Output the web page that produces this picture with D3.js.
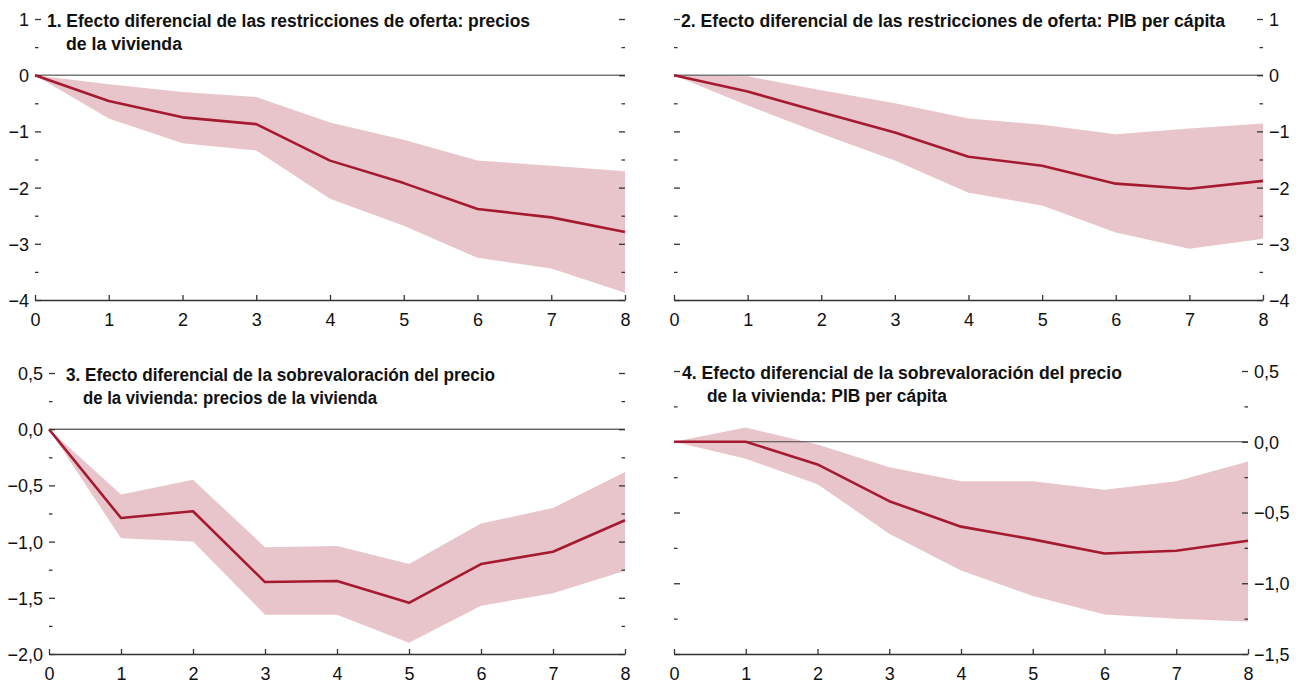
<!DOCTYPE html>
<html>
<head>
<meta charset="utf-8">
<script src="https://cdn.jsdelivr.net/npm/d3@7"></script>
<style>
  body { margin: 0; background: #fff; }
  svg { display: block; font-family: "Liberation Sans", Arial, sans-serif; }
  .tick text { font-size: 18px; fill: #111; }
  .title { font-size: 18px; font-weight: bold; fill: #111; }
</style>
</head>
<body>
<div data-js-graph></div>
<script>
// horizons (x axis)
const steps = [0, 1, 2, 3, 4, 5, 6, 7, 8];

// 1. supply restrictions: house prices
const p1Mid = [0, -0.46, -0.75, -0.87, -1.52, -1.92, -2.38, -2.53, -2.79];
const p1Low = [0, -0.77, -1.21, -1.34, -2.2, -2.68, -3.25, -3.44, -3.87];
const p1High = [0, -0.16, -0.30, -0.39, -0.84, -1.15, -1.52, -1.61, -1.71];

// 2. supply restrictions: GDP per capita
const p2Mid = [0, -0.29, -0.66, -1.02, -1.45, -1.61, -1.93, -2.02, -1.88];
const p2Low = [0, -0.54, -1.04, -1.52, -2.09, -2.32, -2.8, -3.09, -2.91];
const p2High = [0, -0.02, -0.27, -0.5, -0.77, -0.88, -1.05, -0.95, -0.86];

// 3. overvaluation: house prices
const p3Mid = [0, -0.79, -0.73, -1.36, -1.35, -1.545, -1.2, -1.09, -0.81];
const p3Low = [0, -0.97, -1.0, -1.65, -1.65, -1.9, -1.57, -1.46, -1.26];
const p3High = [0, -0.58, -0.45, -1.05, -1.04, -1.2, -0.84, -0.70, -0.38];

// 4. overvaluation: GDP per capita
const p4Mid = [0, 0, -0.16, -0.42, -0.6, -0.69, -0.79, -0.77, -0.70];
const p4Low = [0, -0.12, -0.30, -0.65, -0.91, -1.09, -1.22, -1.25, -1.27];
const p4High = [0, 0.10, -0.02, -0.18, -0.28, -0.28, -0.34, -0.28, -0.14];

// y ticks
const ticksTop = [-4, -3, -2, -1, 0, 1];
const minorTop = [-3.5, -2.5, -1.5, -0.5, 0.5];
const ticksBottom = [-2, -1.5, -1, -0.5, 0, 0.5];
const minorBottom = [-1.75, -1.25, -0.75, -0.25, 0.25];
const ticksBottomR = [-1.5, -1, -0.5, 0, 0.5];
const minorBottomR = [-1.25, -0.75, -0.25, 0.25];

const titles = {
  p1: ['1. Efecto diferencial de las restricciones de oferta: precios', 'de la vivienda'],
  p2: ['2. Efecto diferencial de las restricciones de oferta: PIB per cápita'],
  p3: ['3. Efecto diferencial de la sobrevaloración del precio', 'de la vivienda: precios de la vivienda'],
  p4: ['4. Efecto diferencial de la sobrevaloración del precio', 'de la vivienda: PIB per cápita'],
};

const COLORS = {
  line: '#a51a31',
  band: '#e8c5ca',
  axis: '#333',
  zero: '#777',
};

const W = 1305;
const H = 683;

const svg = d3.select('[data-js-graph]').append('svg')
  .attr('width', W)
  .attr('height', H);

const fmtInt = (d) => (d < 0 ? `\u2212${Math.abs(d)}` : `${d}`);
const fmtDec = (d) => {
  const s = Math.abs(d).toFixed(1).replace('.', ',');
  return d < 0 ? `\u2212${s}` : s;
};

/**
 * Draws one panel.
 */
function drawPanel(cfg) {
  const g = svg.append('g');
  const x = d3.scaleLinear().domain([0, 8]).range([cfg.x0, cfg.x1]);
  const y = d3.scaleLinear().domain(cfg.yDomain).range([cfg.yBottom, cfg.yTop]);

  const rows = steps.map((s, i) => ({
    s, mid: cfg.mid[i], low: cfg.low[i], high: cfg.high[i],
  }));

  // confidence band
  g.append('path')
    .datum(rows)
    .attr('fill', COLORS.band)
    .attr('d', d3.area()
      .x((d) => x(d.s))
      .y0((d) => y(d.low))
      .y1((d) => y(d.high)));

  // zero line
  g.append('line')
    .attr('x1', cfg.x0)
    .attr('x2', cfg.x1)
    .attr('y1', y(0))
    .attr('y2', y(0))
    .attr('stroke', cfg.zeroColor)
    .attr('stroke-width', cfg.zeroWidth);

  // y ticks on both sides; labels on one side
  const sides = [
    { at: cfg.x0, labelled: cfg.labelSide === 'left', axis: d3.axisLeft, dir: -1 },
    { at: cfg.x1, labelled: cfg.labelSide === 'right', axis: d3.axisRight, dir: 1 },
  ];
  sides.forEach((side) => {
    const major = g.append('g')
      .attr('transform', `translate(${side.at},0)`)
      .call(side.axis(y)
        .tickValues(cfg.ticks)
        .tickSize(-6)
        .tickPadding(6)
        .tickFormat(side.labelled ? cfg.fmt : () => ''));
    major.select('.domain').remove();
    major.selectAll('line').attr('stroke', COLORS.axis).attr('stroke-width', 1.3);
    major.selectAll('text')
      .attr('x', side.dir * 6)
      .attr('dy', '0.36em');

    const minor = g.append('g')
      .attr('transform', `translate(${side.at},0)`)
      .call(side.axis(y).tickValues(cfg.minor).tickSize(-3.5).tickFormat(() => ''));
    minor.select('.domain').remove();
    minor.selectAll('line').attr('stroke', COLORS.axis).attr('stroke-width', 1.3);
  });

  // x axis
  const xa = g.append('g')
    .attr('transform', `translate(0,${cfg.yBottom})`)
    .call(d3.axisBottom(x).tickValues(steps).tickSize(-5).tickSizeOuter(0)
      .tickFormat(d3.format('d')));
  xa.select('.domain').attr('stroke', COLORS.axis).attr('stroke-width', 1.3);
  xa.selectAll('line').attr('stroke', COLORS.axis).attr('stroke-width', 1.3);
  xa.selectAll('text').attr('y', 26).attr('dy', 0);

  // central estimate
  g.append('path')
    .datum(rows)
    .attr('fill', 'none')
    .attr('stroke', COLORS.line)
    .attr('stroke-width', 2.6)
    .attr('stroke-linejoin', 'round')
    .attr('d', d3.line()
      .x((d) => x(d.s))
      .y((d) => y(d.mid)));

  // title, squeezed to the width of the original condensed face
  const t = g.append('text')
    .attr('class', 'title');
  cfg.title.forEach((line, i) => {
    t.append('tspan')
      .attr('x', cfg.titleX[i])
      .attr('y', cfg.yTop + 8 + i * 22.5)
      .attr('textLength', cfg.titleW[i])
      .attr('lengthAdjust', 'spacingAndGlyphs')
      .text(line);
  });
}

drawPanel({
  x0: 35, x1: 625, yTop: 19, yBottom: 300, yDomain: [-4, 1],
  mid: p1Mid, low: p1Low, high: p1High,
  ticks: ticksTop, minor: minorTop, fmt: fmtInt, labelSide: 'left',
  zeroColor: COLORS.zero, zeroWidth: 1.6,
  title: titles.p1, titleX: [47, 66], titleW: [483, 116],
});

drawPanel({
  x0: 674, x1: 1263, yTop: 19, yBottom: 300, yDomain: [-4, 1],
  mid: p2Mid, low: p2Low, high: p2High,
  ticks: ticksTop, minor: minorTop, fmt: fmtInt, labelSide: 'right',
  zeroColor: COLORS.zero, zeroWidth: 1.6,
  title: titles.p2, titleX: [681], titleW: [544],
});

drawPanel({
  x0: 49, x1: 625, yTop: 373, yBottom: 654, yDomain: [-2, 0.5],
  mid: p3Mid, low: p3Low, high: p3High,
  ticks: ticksBottom, minor: minorBottom, fmt: fmtDec, labelSide: 'left',
  zeroColor: '#222', zeroWidth: 1,
  title: titles.p3, titleX: [66, 83], titleW: [429, 294],
});

drawPanel({
  x0: 674, x1: 1248, yTop: 371, yBottom: 654, yDomain: [-1.5, 0.5],
  mid: p4Mid, low: p4Low, high: p4High,
  ticks: ticksBottomR, minor: minorBottomR, fmt: fmtDec, labelSide: 'right',
  zeroColor: '#444', zeroWidth: 1,
  title: titles.p4, titleX: [682, 707], titleW: [440, 240],
});
</script>
</body>
</html>
